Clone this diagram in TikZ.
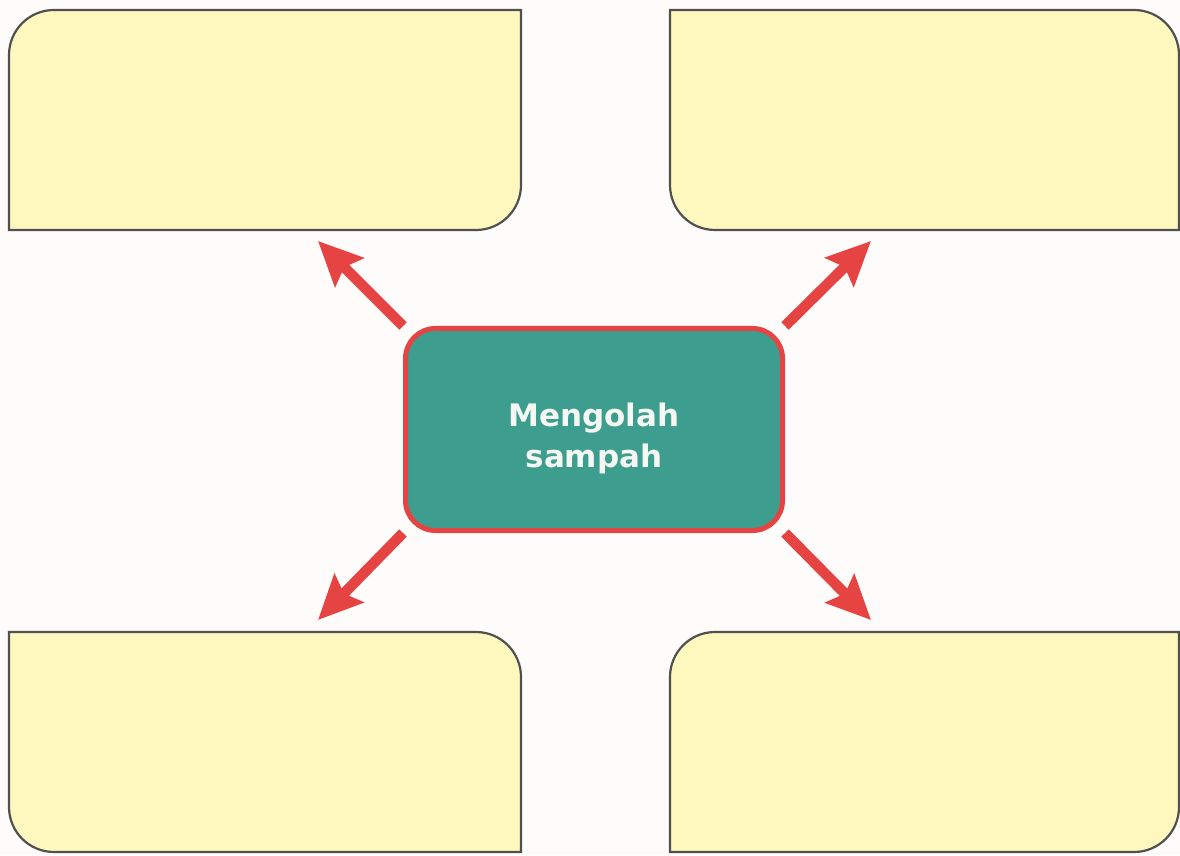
\documentclass[tikz,border=0pt]{standalone}
\usepackage{fontspec}
\newfontfamily\labelfont{DejaVu Sans}
\usetikzlibrary{arrows.meta}
\definecolor{bgc}{RGB}{254,252,250}
\definecolor{boxfill}{RGB}{255,248,190}
\definecolor{boxline}{RGB}{80,80,80}
\definecolor{teal1}{RGB}{61,157,143}
\definecolor{red1}{RGB}{230,67,67}
\definecolor{txtc}{RGB}{245,248,242}
\tikzset{
  answerbox/.style={fill=boxfill, draw=boxline, line width=2.2pt},
  centerbox/.style={draw=red1, fill=teal1, line width=5pt, rounded corners=30pt,
    minimum width=377pt, minimum height=202pt, inner sep=0pt},
  centertext/.style={text=txtc, align=center, font=\labelfont\bfseries\fontsize{31}{41}\selectfont},
  redarrow/.style={draw=red1, line width=10.5pt, -{Stealth[length=44pt, width=40pt, inset=7pt]}}
}
\begin{document}
\begin{tikzpicture}[x=1pt, y=1pt]
\useasboundingbox (0,0) rectangle (1180,855);
\fill[bgc] (0,0) rectangle (1180,855);
% top-left box
\path[answerbox] (9,625) -- (9,800) arc[start angle=180, end angle=90, radius=45]
  -- (521,845) -- (521,670) arc[start angle=0, end angle=-90, radius=45] -- cycle;
% top-right box
\path[answerbox] (670,845) -- (1134,845) arc[start angle=90, end angle=0, radius=45]
  -- (1179,625) -- (715,625) arc[start angle=-90, end angle=-180, radius=45] -- cycle;
% bottom-left box
\path[answerbox] (9,223) -- (476,223) arc[start angle=90, end angle=0, radius=45]
  -- (521,3) -- (54,3) arc[start angle=-90, end angle=-180, radius=45] -- cycle;
% bottom-right box
\path[answerbox] (670,3) -- (670,178) arc[start angle=180, end angle=90, radius=45]
  -- (1179,223) -- (1179,48) arc[start angle=0, end angle=-90, radius=45] -- cycle;
% center
\node[centerbox] (c) at (594,425.5) {};
\node[centertext] (ct) at (594,417) {Mengolah\\sampah};
% arrow tips
\coordinate (tl) at (318,614);
\coordinate (tr) at (871,614);
\coordinate (bl) at (318,235);
\coordinate (br) at (871,235);
\draw[redarrow] (c.north west) -- (tl);
\draw[redarrow] (c.north east) -- (tr);
\draw[redarrow] (c.south west) -- (bl);
\draw[redarrow] (c.south east) -- (br);
\end{tikzpicture}
\end{document}
